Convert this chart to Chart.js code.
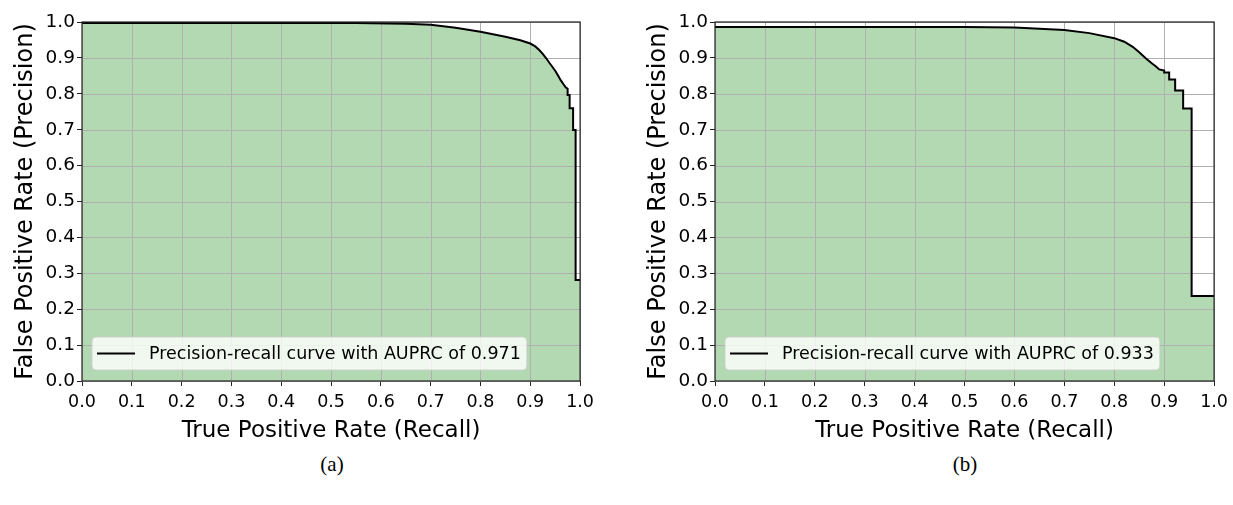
<!DOCTYPE html>
<html>
<head>
<meta charset="utf-8">
<script src="https://cdn.jsdelivr.net/npm/chart.js@4.4.0/dist/chart.umd.min.js"></script>
<style>
  html, body { margin: 0; padding: 0; background: #fff; }
  body { width: 1233px; height: 505px; position: relative; overflow: hidden; }
  .panel { position: absolute; top: 0; height: 445px; }
  .caption { position: absolute; top: 452px; font-family: "Liberation Serif", serif; font-size: 21px; color: #000; text-align: center; width: 100px; }
</style>
</head>
<body>
<div class="panel" style="left:0;width:600px"><canvas id="chartA"></canvas></div>
<div class="panel" style="left:633px;width:601px"><canvas id="chartB"></canvas></div>
<div class="caption" style="left:282px">(a)</div>
<div class="caption" style="left:915px">(b)</div>
<script>
// ---- data ----
const ticks = [0.0, 0.1, 0.2, 0.3, 0.4, 0.5, 0.6, 0.7, 0.8, 0.9, 1.0];

const recallA    = [0, 0.55, 0.65, 0.7, 0.75, 0.8, 0.85, 0.88, 0.9, 0.91, 0.918, 0.925, 0.932, 0.939, 0.945, 0.951, 0.956, 0.961, 0.966, 0.971, 0.975, 0.975, 0.979, 0.979, 0.986, 0.986, 0.991, 0.991, 1.0];
const precisionA = [0.997, 0.997, 0.995, 0.992, 0.984, 0.973, 0.959, 0.949, 0.940, 0.932, 0.922, 0.911, 0.899, 0.885, 0.874, 0.862, 0.850, 0.838, 0.828, 0.818, 0.814, 0.797, 0.797, 0.760, 0.760, 0.699, 0.699, 0.281, 0.281];
const labelA = 'Precision-recall curve with AUPRC of 0.971';

const recallB    = [0, 0.5, 0.6, 0.7, 0.75, 0.8, 0.82, 0.837, 0.85, 0.863, 0.875, 0.883, 0.89, 0.9, 0.9, 0.91, 0.91, 0.922, 0.922, 0.938, 0.938, 0.955, 0.955, 1.0];
const precisionB = [0.986, 0.986, 0.985, 0.978, 0.969, 0.955, 0.945, 0.931, 0.916, 0.899, 0.885, 0.877, 0.868, 0.865, 0.859, 0.859, 0.840, 0.840, 0.809, 0.809, 0.759, 0.759, 0.237, 0.237];
const labelB = 'Precision-recall curve with AUPRC of 0.933';

const FONT = "'DejaVu Sans', sans-serif";

// grid drawn over the green fill, under the curve
const gridPlugin = {
  id: 'gridOver',
  afterDatasetDraw(chart, args) {
    if (args.index !== 0) return;
    const { ctx, chartArea: a, scales } = chart;
    ctx.save();
    ctx.strokeStyle = '#b0b0b0';
    ctx.lineWidth = 1;
    ticks.forEach(v => {
      const x = Math.round(scales.x.getPixelForValue(v)) + 0.5;
      const y = Math.round(scales.y.getPixelForValue(v)) + 0.5;
      ctx.beginPath(); ctx.moveTo(x, a.top); ctx.lineTo(x, a.bottom); ctx.stroke();
      ctx.beginPath(); ctx.moveTo(a.left, y); ctx.lineTo(a.right, y); ctx.stroke();
    });
    ctx.restore();
  }
};

// frame on all four sides + legend box inside the plot
const framePlugin = {
  id: 'frame',
  afterDatasetsDraw(chart) {
    const { ctx, chartArea: a } = chart;
    ctx.save();
    ctx.strokeStyle = '#222';
    ctx.lineWidth = 1.2;
    ctx.strokeRect(a.left, a.top, a.right - a.left, a.bottom - a.top);

    // legend
    const text = chart.data.datasets[1].label;
    ctx.font = '17.5px ' + FONT;
    const w = ctx.measureText(text).width;
    const x = a.left + 10, y = a.bottom - 44, bw = 57 + w + 6, bh = 33;
    ctx.beginPath();
    ctx.roundRect(x, y, bw, bh, 4);
    ctx.fillStyle = 'rgba(255,255,255,0.8)';
    ctx.fill();
    ctx.strokeStyle = 'rgba(204,204,204,0.8)';
    ctx.lineWidth = 1;
    ctx.stroke();
    ctx.strokeStyle = '#000';
    ctx.lineWidth = 2;
    ctx.beginPath();
    ctx.moveTo(x + 5, y + bh / 2);
    ctx.lineTo(x + 43, y + bh / 2);
    ctx.stroke();
    ctx.fillStyle = '#000';
    ctx.textBaseline = 'middle';
    ctx.fillText(text, x + 57, y + bh / 2 + 1);
    ctx.restore();
  }
};

function makeChart(id, recall, precision, label) {
  const pts = recall.map((r, i) => ({ x: r, y: precision[i] }));
  return new Chart(document.getElementById(id), {
    type: 'line',
    data: {
      datasets: [{
        label: 'area',
        data: pts,
        borderWidth: 0,
        backgroundColor: '#b3d9b3',
        fill: 'origin',
        pointRadius: 0,
        tension: 0,
        order: 2
      }, {
        label: label,
        data: pts,
        borderColor: '#000',
        borderWidth: 2,
        fill: false,
        pointRadius: 0,
        tension: 0,
        order: 1
      }]
    },
    options: {
      responsive: true,
      maintainAspectRatio: false,
      animation: false,
      layout: { padding: { left: 0, right: 19, top: 22, bottom: 0 } },
      plugins: { legend: { display: false }, tooltip: { enabled: false } },
      scales: {
        x: {
          type: 'linear', min: 0, max: 1,
          afterBuildTicks: s => { s.ticks = ticks.map(v => ({ value: v })); },
          afterFit: s => { s.height = 64; },
          grid: { color: 'rgba(0,0,0,0)', tickColor: '#222', tickLength: 5 },
          border: { display: false },
          ticks: { color: '#000', font: { family: FONT, size: 17.5 }, padding: 6, maxRotation: 0, autoSkip: false,
                   callback: v => v.toFixed(1) },
          title: { display: true, text: 'True Positive Rate (Recall)', color: '#000',
                   font: { family: FONT, size: 23 }, padding: { top: 0, bottom: 0 } }
        },
        y: {
          min: 0, max: 1,
          afterBuildTicks: s => { s.ticks = ticks.map(v => ({ value: v })); },
          afterFit: s => { s.width = 82; },
          grid: { color: 'rgba(0,0,0,0)', tickColor: '#222', tickLength: 5 },
          border: { display: false },
          ticks: { color: '#000', font: { family: FONT, size: 18.5 }, padding: 2, autoSkip: false,
                   callback: v => v.toFixed(1) },
          title: { display: true, text: 'False Positive Rate (Precision)', color: '#000',
                   font: { family: FONT, size: 24 }, padding: { top: 11, bottom: 0 } }
        }
      }
    },
    plugins: [gridPlugin, framePlugin]
  });
}

makeChart('chartA', recallA, precisionA, labelA);
makeChart('chartB', recallB, precisionB, labelB);
</script>
</body>
</html>
